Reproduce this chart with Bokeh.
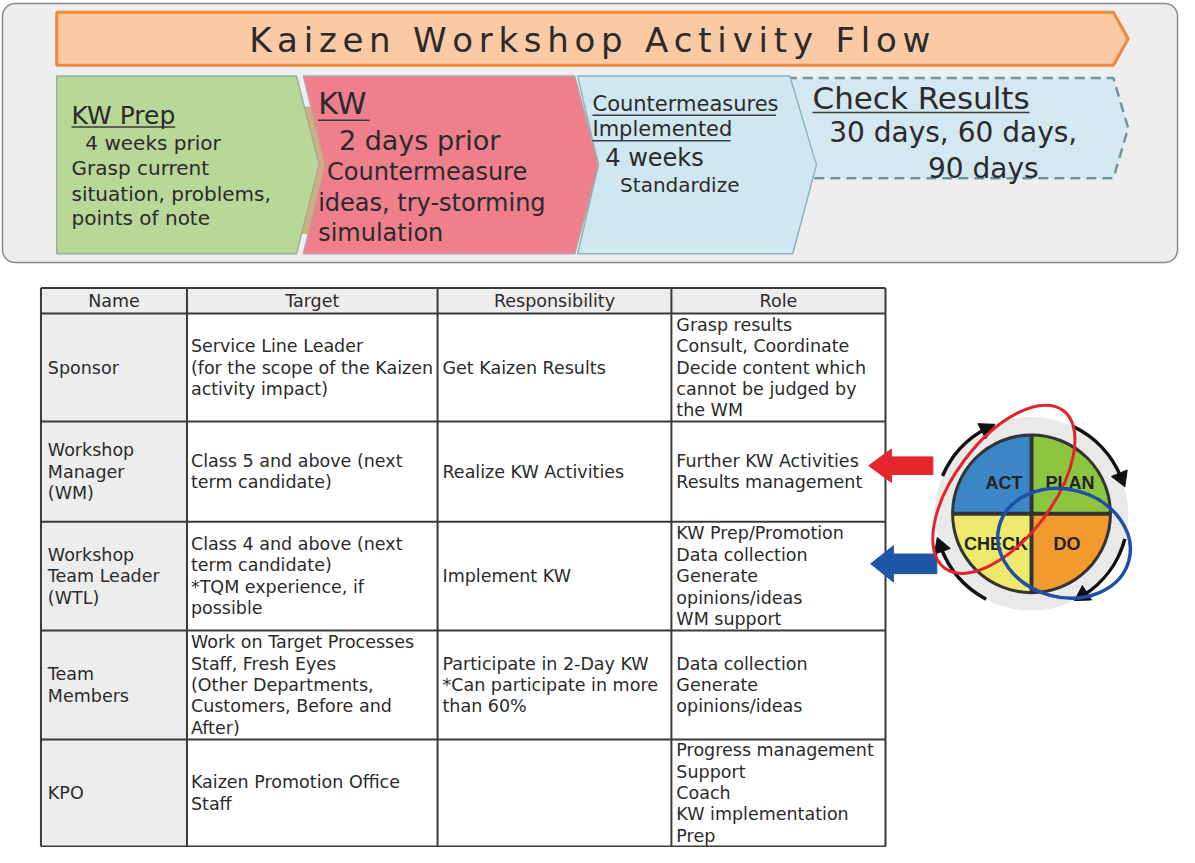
import numpy as np
from bokeh.plotting import figure
from bokeh.models import Range1d, ColumnDataSource
from bokeh.core.properties import value
from bokeh.embed import file_html
from bokeh.resources import INLINE

# ---------------- data ----------------
title = "Kaizen Workshop Activity Flow"

stage1_text = ["KW Prep", "4 weeks prior", "Grasp current", "situation, problems,", "points of note"]
stage2_text = ["KW", "2 days prior", "Countermeasure", "ideas, try-storming", "simulation"]
stage3_text = ["Countermeasures", "Implemented", "4 weeks", "Standardize"]
stage4_text = ["Check Results", "30 days, 60 days,", "90 days"]

table_columns = ["Name", "Target", "Responsibility", "Role"]
table_names = ["Sponsor", "Workshop\nManager\n(WM)", "Workshop\nTeam Leader\n(WTL)", "Team\nMembers", "KPO"]
table_target = [
    "Service Line Leader\n(for the scope of the Kaizen\nactivity impact)",
    "Class 5 and above (next\nterm candidate)",
    "Class 4 and above (next\nterm candidate)\n*TQM experience, if\npossible",
    "Work on Target Processes\nStaff, Fresh Eyes\n(Other Departments,\nCustomers, Before and\nAfter)",
    "Kaizen Promotion Office\nStaff",
]
table_resp = [
    "Get Kaizen Results",
    "Realize KW Activities",
    "Implement KW",
    "Participate in 2-Day KW\n*Can participate in more\nthan 60%",
    "",
]
table_role = [
    "Grasp results\nConsult, Coordinate\nDecide content which\ncannot be judged by\nthe WM",
    "Further KW Activities\nResults management",
    "KW Prep/Promotion\nData collection\nGenerate\nopinions/ideas\nWM support",
    "Data collection\nGenerate\nopinions/ideas",
    "Progress management\nSupport\nCoach\nKW implementation\nPrep",
]

pdca_labels = ["ACT", "PLAN", "CHECK", "DO"]
pdca_colors = ["#3b86c6", "#8cc540", "#eee96d", "#f29a2e"]

# ---------------- layout ----------------
W_REF, H_REF = 1195, 863
def Y(v):
    if isinstance(v, (list, tuple, np.ndarray)):
        return [H_REF - t for t in v]
    return H_REF - v

FONT = value("DejaVu Sans")
TXT = "#2b2b2b"

p = figure(width=1179, height=847, x_range=Range1d(0, W_REF), y_range=Range1d(0, H_REF),
           output_backend="svg", toolbar_location=None, min_border=0)
p.axis.visible = False
p.grid.visible = False
p.outline_line_color = None
p.background_fill_color = "white"
p.border_fill_color = "white"

# rounded panel
def rounded_rect(x0, y0, x1, y1, r, n=10):
    xs, ys = [], []
    corners = [(x1 - r, y0 + r, -90, 0), (x1 - r, y1 - r, 0, 90),
               (x0 + r, y1 - r, 90, 180), (x0 + r, y0 + r, 180, 270)]
    for cx, cy, a0, a1 in corners:
        for a in np.linspace(np.radians(a0), np.radians(a1), n):
            xs.append(cx + r * np.cos(a))
            ys.append(cy + r * np.sin(a))
    return xs, ys

px, py = rounded_rect(2, 3, 1193, 267, 13)
p.patch(px, Y(py), fill_color="#eeeeee", line_color="#8a8a8a", line_width=1.5)

# title arrow
tx0, tx1, ttip, ty0, ty1 = 57, 1128, 1143, 12, 66
p.patch([tx0, tx1, ttip, tx1, tx0], Y([ty0, ty0, (ty0 + ty1) / 2, ty1, ty1]),
        fill_color="#f9caa4", line_color="#f0883a", line_width=3)

# title with letter spacing (DejaVu Sans advance widths)
adv = {"K": .656, "a": .613, "i": .278, "z": .525, "e": .615, "n": .634, " ": .318,
       "W": .989, "o": .612, "r": .411, "k": .579, "s": .521, "h": .634, "p": .635,
       "A": .684, "c": .550, "t": .392, "v": .592, "y": .592, "F": .575, "l": .278, "w": .818}
tfs = 34
natural = sum(adv[c] for c in title) * tfs
gap = (690 - natural) / (len(title) - 1)
cx_list, x = [], 252.0
for c in title:
    cx_list.append(x)
    x += adv[c] * tfs + gap
p.text(x=cx_list, y=[Y(40)] * len(title), text=list(title), text_font=FONT,
       text_font_size=value(f"{tfs}px"), text_baseline="middle", text_align="left", text_color=TXT)

# stage chevrons
top, bot = 77, 258
mid = (top + bot) / 2
d0, d1, dtip, dy0, dy1 = 797, 1128, 1143, 79, 181
p.patch([d0, d1, dtip, d1, d0], Y([dy0, dy0, (dy0 + dy1) / 2, dy1, dy1]),
        fill_color="#d3e9ef", line_color="#6f9595", line_width=2.5, line_dash="10 6")
p.patch([585, 800, 827, 803, 585, 606], Y([top, top, mid, bot, bot, mid]),
        fill_color="#cfe8ef", line_color="#8bb4c0", line_width=1.5)
p.patch([307, 582, 606, 582, 307, 329], Y([top, top, mid, bot, bot, mid]),
        fill_color="#ee7f8b", line_color="#b5a1a6", line_width=1.5)
p.patch([57, 300, 323, 300, 57], Y([top, top, mid, bot, bot]),
        fill_color="#b8d898", line_color="#8fb2a2", line_width=1.5)
ys_s = np.linspace(108, 238, 12)
def edge(x_top, x_mid, yy):
    return x_top + (x_mid - x_top) * (1 - abs(yy - mid) / (mid - top))
sx = [edge(300, 323, v) for v in ys_s] + [edge(307, 329, v) for v in ys_s[::-1]]
sy = list(ys_s) + list(ys_s[::-1])
p.patch(sx, Y(sy), fill_color="#c9a273", line_color=None, fill_alpha=0.85)

def sizes_src(lines, xs, ys, sizes):
    src = ColumnDataSource(dict(x=xs, y=Y(ys), t=lines, s=[f"{s}px" for s in sizes]))
    p.text(x="x", y="y", text="t", text_font_size="s", source=src, text_font=FONT,
           text_baseline="middle", text_align="left", text_color=TXT)

sizes_src(stage1_text, [72, 86, 72, 72, 72], [117, 145, 171, 197, 222], [25, 20, 20, 20, 20])
sizes_src(stage2_text, [322, 343, 331, 322, 322], [105, 143, 175, 206, 237], [30, 27, 24, 24, 24])
sizes_src(stage3_text, [600, 600, 613, 628], [105, 131, 160, 188], [21, 21, 24, 20])
sizes_src(stage4_text, [823, 840, 940], [99, 135, 171], [31, 28, 28])

# underlines
ul_x0 = [72, 322, 600, 600, 823]
ul_x1 = [177, 374, 786, 740, 1043]
ul_y = [129, 122, 117, 143, 114]
p.segment(x0=ul_x0, y0=Y(ul_y), x1=ul_x1, y1=Y(ul_y), line_color="#3a3a3a", line_width=1.5)

# ---------------- table ----------------
col_edges = [41, 189, 443, 680, 897]
row_edges = [293, 319, 429, 531, 642, 753, 862]
shade = "#ededed"
p.quad(left=[col_edges[0]], right=[col_edges[-1]], top=[Y(row_edges[0])], bottom=[Y(row_edges[1])],
       fill_color=shade, line_color=None)
p.quad(left=[col_edges[0]], right=[col_edges[1]], top=[Y(row_edges[1])], bottom=[Y(row_edges[-1])],
       fill_color=shade, line_color=None)
p.segment(x0=[col_edges[0]] * len(row_edges), x1=[col_edges[-1]] * len(row_edges),
          y0=Y(row_edges), y1=Y(row_edges), line_color="#3a3a3a", line_width=2)
p.segment(x0=col_edges, x1=col_edges, y0=[Y(row_edges[0])] * len(col_edges),
          y1=[Y(row_edges[-1])] * len(col_edges), line_color="#3a3a3a", line_width=2)

tfs_tab = "17.5px"
hx = [(col_edges[i] + col_edges[i + 1]) / 2 for i in range(4)]
p.text(x=hx, y=[Y((row_edges[0] + row_edges[1]) / 2)] * 4, text=table_columns, text_font=FONT,
       text_font_size=value(tfs_tab), text_baseline="middle", text_align="center", text_color=TXT)

LS = 21.8
pads = [7, 4, 5, 5]
xs, ys, ts = [], [], []
for r in range(5):
    rc = (row_edges[r + 1] + row_edges[r + 2]) / 2
    for c, col in enumerate([table_names, table_target, table_resp, table_role]):
        lines = [l for l in col[r].split("\n") if l]
        n = len(lines)
        for i, l in enumerate(lines):
            xs.append(col_edges[c] + pads[c])
            ys.append(Y(rc + (i - (n - 1) / 2) * LS))
            ts.append(l)
p.text(x=xs, y=ys, text=ts, text_font=FONT, text_font_size=value(tfs_tab),
       text_baseline="middle", text_align="left", text_color=TXT)

# ---------------- arrows to table ----------------
def block_arrow(tip_x, tip_y, head_x, head_h, shaft_h, tail_x, color):
    xs_ = [tip_x, head_x, head_x, tail_x, tail_x, head_x, head_x]
    ys_ = [tip_y, tip_y - head_h / 2, tip_y - shaft_h / 2, tip_y - shaft_h / 2,
           tip_y + shaft_h / 2, tip_y + shaft_h / 2, tip_y + head_h / 2]
    p.patch(xs_, Y(ys_), fill_color=color, line_color=color, line_width=1)

block_arrow(880, 474, 903, 34, 18, 945, "#e5262c")
block_arrow(882, 574, 905, 37, 20, 949, "#1f56a6")

# ---------------- PDCA wheel ----------------
cx, cy, R = 1045, 523, 80
p.annulus(x=[cx], y=[Y(cy)], inner_radius=R, outer_radius=R + 18, fill_color="#e9e9e9", line_color=None)
starts = [90, 0, 180, 270]
for lab, col, s in zip(pdca_labels, pdca_colors, starts):
    p.wedge(x=[cx], y=[Y(cy)], radius=R, start_angle=np.radians(s), end_angle=np.radians(s + 90),
            direction="anticlock", fill_color=col, line_color=None)
p.circle(x=[cx], y=[Y(cy)], radius=R, fill_color=None, line_color="#333333", line_width=3)
p.segment(x0=[cx - R, cx], y0=[Y(cy), Y(cy - R)], x1=[cx + R, cx], y1=[Y(cy), Y(cy + R)],
          line_color="#333333", line_width=4)
lab_dx = [-28, 39, -36, 36]
lab_dy = [-31, -31, 31, 31]
p.text(x=[cx + d for d in lab_dx], y=[Y(cy + d) for d in lab_dy], text=pdca_labels,
       text_font=value("Liberation Sans"), text_font_style="bold", text_font_size=value("18px"),
       text_baseline="middle", text_align="center", text_color="#222222")

arc_start = [157, 65, -15, 242]
arc_end = [118, 22, -58, 200]
RA = 98
p.arc(x=[cx] * 4, y=[Y(cy)] * 4, radius=RA, start_angle=np.radians(arc_start),
      end_angle=np.radians(arc_end), direction="clock", line_color="#111111", line_width=3.5)
hx_ = [cx + RA * np.cos(np.radians(a)) for a in arc_end]
hy_ = [Y(cy - RA * np.sin(np.radians(a))) for a in arc_end]
p.scatter(x=hx_, y=hy_, marker="triangle", size=17, angle=[np.radians(a - 180) for a in arc_end],
          fill_color="#111111", line_color="#111111")

p.ellipse(x=[1017], y=[Y(498)], width=200, height=100, angle=np.radians(53),
          fill_color=None, line_color="#e4232b", line_width=3)
p.ellipse(x=[1078], y=[Y(553)], width=136, height=110, angle=np.radians(-15),
          fill_color=None, line_color="#1f4fa6", line_width=3.5)

open("out.html", "w").write(file_html(p, INLINE))
